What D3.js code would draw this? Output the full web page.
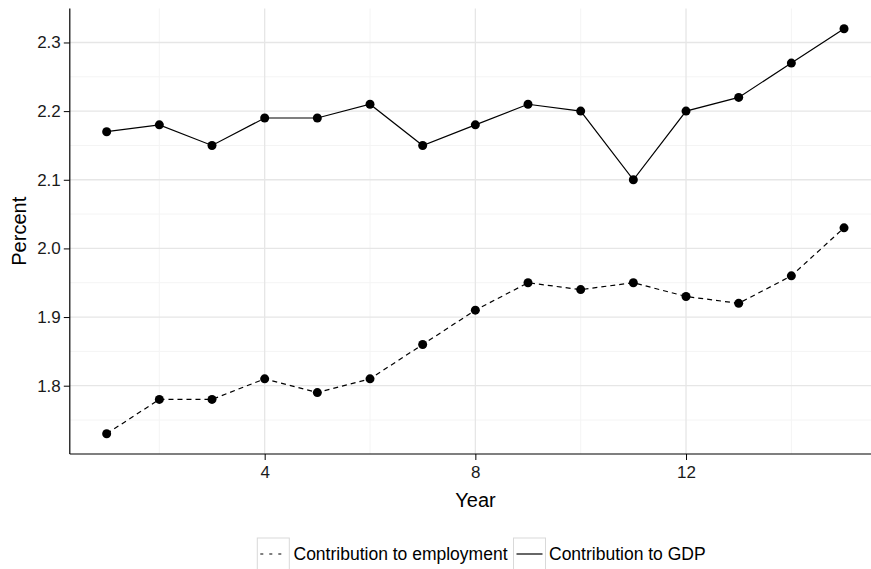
<!DOCTYPE html>
<html>
<head>
<meta charset="utf-8">
<script src="https://cdn.jsdelivr.net/npm/d3@7"></script>
<style>
  body { margin: 0; background: #fff; }
  svg { display: block; font-family: "Liberation Sans", Arial, sans-serif; }
</style>
</head>
<body>
<svg id="chart" width="871" height="569"></svg>
<script>
const years = [1,2,3,4,5,6,7,8,9,10,11,12,13,14,15];
const gdp = [2.17,2.18,2.15,2.19,2.19,2.21,2.15,2.18,2.21,2.20,2.10,2.20,2.22,2.27,2.32];
const employment = [1.73,1.78,1.78,1.81,1.79,1.81,1.86,1.91,1.95,1.94,1.95,1.93,1.92,1.96,2.03];
const xTicks = [4,8,12];
const xMinor = [2,6,10,14];
const yTicks = [1.8,1.9,2.0,2.1,2.2,2.3];
const yMinor = [1.75,1.85,1.95,2.05,2.15,2.25,2.35];
const seriesNames = ["Contribution to employment","Contribution to GDP"];

(function () {
const svg = d3.select("#chart");
const pLeft = 69.8, pRight = 880.9, pTop = 8.5, pBottom = 454;

const x = d3.scaleLinear().domain([0.3, 15.7]).range([pLeft, pRight]);
const y = d3.scaleLinear().domain([1.7005, 2.3495]).range([pBottom, pTop]);

const grid = svg.append("g");
grid.selectAll(".ymin").data(yMinor.filter(v => v >= 1.7005 && v <= 2.3495)).join("line")
  .attr("x1", pLeft).attr("x2", pRight).attr("y1", d => y(d)).attr("y2", d => y(d))
  .attr("stroke", "#f4f4f4").attr("stroke-width", 1);
grid.selectAll(".xmin").data(xMinor).join("line")
  .attr("y1", pTop).attr("y2", pBottom).attr("x1", d => x(d)).attr("x2", d => x(d))
  .attr("stroke", "#f4f4f4").attr("stroke-width", 1);
grid.selectAll(".ymaj").data(yTicks).join("line")
  .attr("x1", pLeft).attr("x2", pRight).attr("y1", d => y(d)).attr("y2", d => y(d))
  .attr("stroke", "#e6e6e6").attr("stroke-width", 1.3);
grid.selectAll(".xmaj").data(xTicks).join("line")
  .attr("y1", pTop).attr("y2", pBottom).attr("x1", d => x(d)).attr("x2", d => x(d))
  .attr("stroke", "#e6e6e6").attr("stroke-width", 1.3);

// axes
const xAxis = d3.axisBottom(x).tickValues(xTicks).tickSize(6).tickPadding(6).tickFormat(d3.format("d"));
const yAxis = d3.axisLeft(y).tickValues(yTicks).tickSize(6).tickPadding(3).tickFormat(d3.format(".1f"));

const gx = svg.append("g").attr("transform", `translate(0,${pBottom})`).call(xAxis);
const gy = svg.append("g").attr("transform", `translate(${pLeft},0)`).call(yAxis);
[gx, gy].forEach(g => {
  g.select(".domain").remove();
  g.selectAll(".tick line").attr("stroke", "#000").attr("stroke-width", 1);
  g.selectAll(".tick text").attr("fill", "#1a1a1a").style("font-size", "17px")
    .style("font-family", "'Liberation Sans', Arial, sans-serif");
});
svg.append("line").attr("x1", pLeft).attr("x2", pLeft).attr("y1", pTop).attr("y2", pBottom)
  .attr("stroke", "#000").attr("stroke-width", 1.2);
svg.append("line").attr("x1", pLeft).attr("x2", pRight).attr("y1", pBottom).attr("y2", pBottom)
  .attr("stroke", "#000").attr("stroke-width", 1.2);

// titles
svg.append("text").attr("x", 475.5).attr("y", 507)
  .attr("text-anchor", "middle").style("font-size", "20px").attr("fill", "#000").text("Year");
svg.append("text").attr("transform", `translate(26,${(pTop + pBottom) / 2}) rotate(-90)`)
  .attr("text-anchor", "middle").style("font-size", "20px").attr("fill", "#000").text("Percent");

// lines
const line = d3.line().x((d, i) => x(years[i])).y(d => y(d));
svg.append("path").datum(gdp).attr("d", line).attr("fill", "none")
  .attr("stroke", "#000").attr("stroke-width", 1.2);
svg.append("path").datum(employment).attr("d", line).attr("fill", "none")
  .attr("stroke", "#000").attr("stroke-width", 1.2).attr("stroke-dasharray", "5,4");

[gdp, employment].forEach(s => {
  svg.append("g").selectAll("circle").data(s).join("circle")
    .attr("cx", (d, i) => x(years[i])).attr("cy", d => y(d)).attr("r", 4.5).attr("fill", "#000");
});

// legend
const legend = svg.append("g");
const items = [
  {name: seriesNames[0], bx: 257.3, dash: "3,6", tx: 293.5},
  {name: seriesNames[1], bx: 513.5, dash: null, tx: 549}
];
items.forEach(it => {
  legend.append("rect").attr("x", it.bx).attr("y", 538).attr("width", 32).attr("height", 32)
    .attr("fill", "#fff").attr("stroke", "#d9d9d9").attr("stroke-width", 1);
  const l = legend.append("line").attr("x1", it.bx + 3).attr("x2", it.bx + 29)
    .attr("y1", 554).attr("y2", 554).attr("stroke", "#000").attr("stroke-width", 1.2);
  if (it.dash) l.attr("stroke-dasharray", it.dash);
  legend.append("text").attr("x", it.tx).attr("y", 560).style("font-size", "17.5px")
    .attr("fill", "#000").text(it.name);
});
})();
</script>
</body>
</html>
